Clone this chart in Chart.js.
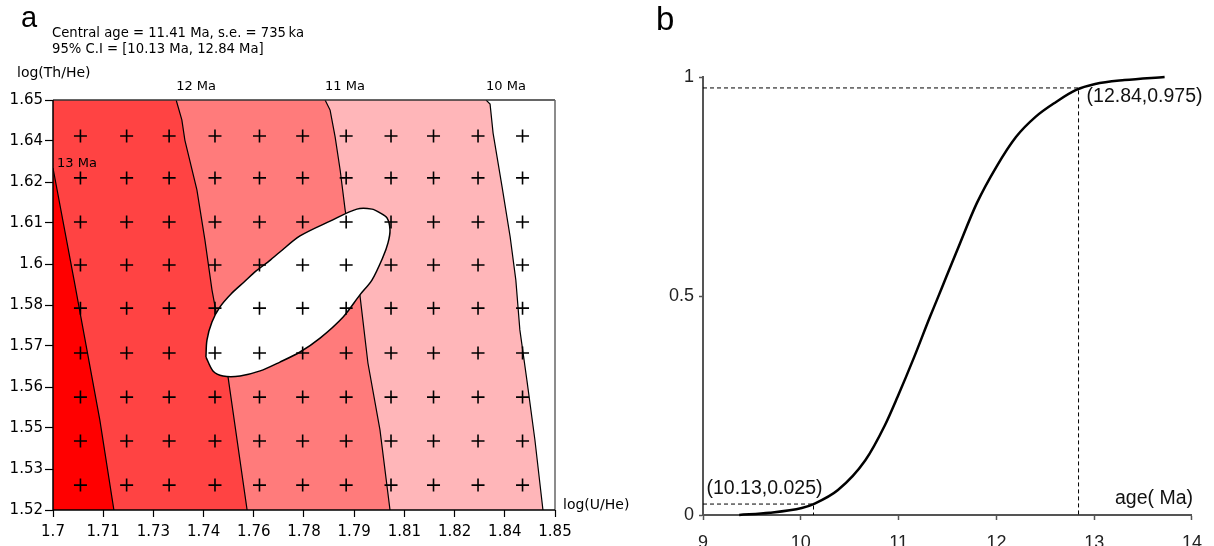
<!DOCTYPE html>
<html>

<head>
    <title>Central age and age distribution</title>
    <script src="https://cdn.jsdelivr.net/npm/chart.js"></script>
    <style>
        body {
            margin: 0;
            background: #fff;
            width: 1214px;
            height: 546px;
            overflow: hidden;
            position: relative;
        }

        canvas {
            position: absolute;
            top: 0;
        }

        #ageMap {
            left: 0;
        }

        #ageCdf {
            left: 640px;
        }

        .txt {
            position: absolute;
            white-space: nowrap;
            line-height: 1;
            color: #000;
        }

        .dv {
            font-family: "DejaVu Sans", sans-serif;
        }

        .ls {
            font-family: "Liberation Sans", Arial, sans-serif;
        }
    </style>
</head>

<body>
    <canvas id="ageMap" width="640" height="546"></canvas>
    <canvas id="ageCdf" width="574" height="546"></canvas>

    <div class="txt ls" style="left:21px; top:3px; font-size:29px;">a</div>
    <div class="txt dv" style="left:52px; top:26px; font-size:13.2px;">Central age = 11.41 Ma, s.e. = 735&#8201;ka</div>
    <div class="txt dv" style="left:52px; top:42px; font-size:13.2px;">95% C.I = [10.13 Ma, 12.84 Ma]</div>
    <div class="txt dv" style="left:17px; top:65px; font-size:14px;">log(Th/He)</div>
    <div class="txt dv" style="left:563px; top:497px; font-size:14px;">log(U/He)</div>
    <div class="txt ls" style="left:656px; top:2px; font-size:33px;">b</div>

    <script>
        // ---- panel a : isochrons in log(U/He) / log(Th/He) space ----
        const uTickLabels = ['1.7', '1.71', '1.73', '1.74', '1.76', '1.78', '1.79', '1.81', '1.82', '1.84', '1.85'];
        const thTickLabels = ['1.52', '1.53', '1.55', '1.56', '1.57', '1.58', '1.6', '1.61', '1.62', '1.64', '1.65'];

        const contourNames = ['13 Ma', '12 Ma', '11 Ma', '10 Ma'];
        const contour13 = [[1.7000, 1.6284], [1.7063, 1.5929], [1.7140, 1.5485], [1.7182, 1.5200]];
        const contour12 = [[1.7368, 1.6500], [1.7385, 1.6437], [1.7394, 1.6373], [1.7430, 1.6215], [1.7454, 1.6056],
            [1.7475, 1.5898], [1.7499, 1.5761], [1.7523, 1.5622], [1.7580, 1.5200]];
        const contour11 = [[1.7813, 1.6500], [1.7828, 1.6468], [1.7843, 1.6383], [1.7858, 1.6278], [1.7873, 1.6151],
            [1.7893, 1.6024], [1.7917, 1.5882], [1.7941, 1.5666], [1.7977, 1.5454], [1.8007, 1.5200]];
        const contour10 = [[1.8294, 1.6500], [1.8306, 1.6487], [1.8315, 1.6395], [1.8342, 1.6224], [1.8366, 1.6066],
            [1.8383, 1.5929], [1.8395, 1.5771], [1.8416, 1.5612], [1.8440, 1.5422], [1.8464, 1.5200]];

        // 95% confidence ellipse outline
        const ellipse95 = [[1.7457, 1.5685], [1.7460, 1.5739], [1.7475, 1.5796], [1.7499, 1.5844], [1.7532, 1.5885],
            [1.7571, 1.5923], [1.7607, 1.5958], [1.7642, 1.5986], [1.7678, 1.6018], [1.7738, 1.6069], [1.7828, 1.6116],
            [1.7908, 1.6154], [1.7953, 1.6154], [1.7977, 1.6142], [1.7998, 1.6126], [1.8007, 1.6088], [1.8001, 1.6047],
            [1.7986, 1.6002], [1.7953, 1.5929], [1.7917, 1.5882], [1.7867, 1.5812], [1.7798, 1.5745], [1.7738, 1.5701],
            [1.7678, 1.5669], [1.7619, 1.5641], [1.7559, 1.5625], [1.7508, 1.5625], [1.7478, 1.5641], [1.7457, 1.5685]];

        // grain positions (grid of crosses)
        const grainU = [1.7082, 1.7220, 1.7347, 1.7484, 1.7617, 1.7746, 1.7876, 1.8010, 1.8137, 1.8270, 1.8403];
        const grainTh = [1.6386, 1.6253, 1.6113, 1.5977, 1.5840, 1.5698, 1.5558, 1.5419, 1.5279];

        // ---- panel b : cumulative age distribution ----
        const ageTicks = [9, 10, 11, 12, 13, 14];
        const probTicks = [0, 0.5, 1];
        const cdfAge = [9.37, 9.68, 10.01, 10.13, 10.38, 10.66, 10.86, 10.99, 11.16, 11.32, 11.39, 11.49, 11.60,
            11.80, 12.00, 12.20, 12.40, 12.61, 12.81, 13.01, 13.31, 13.72];
        const cdfProb = [0, 0.005, 0.016, 0.025, 0.057, 0.125, 0.205, 0.270, 0.361, 0.452, 0.490, 0.545, 0.605,
            0.712, 0.795, 0.863, 0.909, 0.943, 0.970, 0.984, 0.993, 1.0];
        const ciLow = [10.13, 0.025];
        const ciHigh = [12.84, 0.975];

        const U_MIN = 1.7, U_MAX = 1.85, TH_MIN = 1.52, TH_MAX = 1.65;
        const bandColors = ['#ff0000', '#ff4343', '#ff7b7b', '#ffb6b9'];

        Chart.defaults.font.family = '"DejaVu Sans", sans-serif';

        function toPoints(pairs) {
            return pairs.map(p => ({ x: p[0], y: p[1] }));
        }

        const contours = [contour13, contour12, contour11, contour10];

        // filled band left of each isochron, oldest on top
        const bandSets = contours.map((c, i) => ({
            data: [{ x: U_MIN, y: c[0][1] }, ...toPoints(c), { x: U_MIN, y: TH_MIN }],
            showLine: true,
            fill: 'shape',
            backgroundColor: bandColors[i],
            borderColor: 'rgba(0,0,0,0)',
            borderWidth: 0,
            pointRadius: 0,
            tension: 0,
            order: 10 + i
        }));

        const lineSets = contours.map(c => ({
            data: toPoints(c),
            showLine: true,
            fill: false,
            borderColor: '#000',
            borderWidth: 1.2,
            pointRadius: 0,
            tension: 0,
            order: 5
        }));

        const grains = [];
        grainTh.forEach(th => grainU.forEach(u => grains.push({ x: u, y: th })));

        const mapDecor = {
            id: 'mapDecor',
            afterDatasetsDraw(chart) {
                const { ctx, chartArea: a, scales: { x, y } } = chart;
                ctx.save();
                ctx.lineWidth = 1.5;
                ctx.strokeStyle = '#333';
                ctx.beginPath();
                ctx.moveTo(a.left, a.top);
                ctx.lineTo(a.right, a.top);
                ctx.stroke();
                ctx.strokeStyle = '#666';
                ctx.beginPath();
                ctx.moveTo(a.right, a.top);
                ctx.lineTo(a.right, a.bottom);
                ctx.stroke();
                ctx.strokeStyle = '#000';
                ctx.beginPath();
                ctx.moveTo(a.left, a.top);
                ctx.lineTo(a.left, a.bottom);
                ctx.lineTo(a.right, a.bottom);
                ctx.stroke();

                ctx.font = '13px "DejaVu Sans"';
                ctx.fillStyle = '#000';
                ctx.textBaseline = 'alphabetic';
                ctx.textAlign = 'left';
                contours.forEach((c, i) => {
                    const px = x.getPixelForValue(c[0][0]);
                    const py = y.getPixelForValue(c[0][1]);
                    if (py <= a.top + 1) {
                        ctx.fillText(contourNames[i], px, a.top - 10);
                    } else {
                        ctx.fillText(contourNames[i], px + 4, py - 1);
                    }
                });
                ctx.restore();
            }
        };

        new Chart(document.getElementById('ageMap'), {
            type: 'scatter',
            data: {
                datasets: [
                    ...bandSets,
                    ...lineSets,
                    {
                        data: toPoints(ellipse95),
                        showLine: true,
                        fill: 'shape',
                        backgroundColor: '#fff',
                        borderColor: '#000',
                        borderWidth: 1.5,
                        pointRadius: 0,
                        tension: 0.3,
                        order: 3
                    },
                    {
                        data: grains,
                        showLine: false,
                        pointStyle: 'cross',
                        pointRadius: 6.5,
                        borderWidth: 1.6,
                        borderColor: '#000',
                        order: 1
                    }
                ]
            },
            options: {
                responsive: false,
                animation: false,
                events: [],
                layout: { padding: { top: 100, right: 85, left: 0, bottom: 0 } },
                plugins: { legend: { display: false }, tooltip: { enabled: false } },
                scales: {
                    x: {
                        type: 'linear',
                        min: U_MIN,
                        max: U_MAX,
                        afterBuildTicks: s => {
                            s.ticks = uTickLabels.map((_, i) => ({ value: U_MIN + i * (U_MAX - U_MIN) / (uTickLabels.length - 1) }));
                        },
                        afterFit: s => { s.height = 36; },
                        ticks: {
                            callback: (v, i) => uTickLabels[i],
                            autoSkip: false,
                            maxRotation: 0,
                            padding: 6,
                            color: '#000',
                            font: { family: '"DejaVu Sans"', size: 15 }
                        },
                        grid: { drawOnChartArea: false, tickLength: 7, tickColor: '#000', tickWidth: 1.2 },
                        border: { display: false }
                    },
                    y: {
                        type: 'linear',
                        min: TH_MIN,
                        max: TH_MAX,
                        afterBuildTicks: s => {
                            s.ticks = thTickLabels.map((_, i) => ({ value: TH_MIN + i * (TH_MAX - TH_MIN) / (thTickLabels.length - 1) }));
                        },
                        afterFit: s => { s.width = 53; },
                        ticks: {
                            callback: (v, i) => thTickLabels[i],
                            autoSkip: false,
                            padding: 2,
                            color: '#000',
                            font: { family: '"DejaVu Sans"', size: 15 }
                        },
                        grid: { drawOnChartArea: false, tickLength: 8, tickColor: '#000', tickWidth: 1.2 },
                        border: { display: false }
                    }
                }
            },
            plugins: [mapDecor]
        });

        // ---- panel b chart ----
        const cdfNotes = {
            id: 'cdfNotes',
            afterDatasetsDraw(chart) {
                const { ctx, chartArea: a, scales: { x, y } } = chart;
                ctx.save();
                ctx.font = '19.5px "Liberation Sans"';
                ctx.fillStyle = '#111';
                ctx.textBaseline = 'alphabetic';
                const lx = x.getPixelForValue(ciLow[0]);
                const ly = y.getPixelForValue(ciLow[1]);
                ctx.textAlign = 'right';
                ctx.fillText('(' + ciLow[0].toFixed(2) + ',' + ciLow[1].toFixed(3) + ')', lx + 9, ly - 10);
                const hx = x.getPixelForValue(ciHigh[0]);
                const hy = y.getPixelForValue(ciHigh[1]);
                ctx.textAlign = 'left';
                ctx.fillText('(' + ciHigh[0].toFixed(2) + ',' + ciHigh[1].toFixed(3) + ')', hx + 8, hy + 14);
                ctx.textAlign = 'right';
                ctx.fillText('age( Ma)', a.right + 1, a.bottom - 11);
                ctx.restore();
            }
        };

        new Chart(document.getElementById('ageCdf'), {
            type: 'scatter',
            data: {
                datasets: [
                    {
                        data: cdfAge.map((a, i) => ({ x: a, y: cdfProb[i] })),
                        showLine: true,
                        borderColor: '#000',
                        borderWidth: 2.5,
                        pointRadius: 0,
                        cubicInterpolationMode: 'monotone',
                        clip: 6,
                        order: 1
                    },
                    {
                        data: [{ x: ageTicks[0], y: ciHigh[1] }, { x: ciHigh[0], y: ciHigh[1] }, { x: ciHigh[0], y: 0 }],
                        showLine: true,
                        borderColor: '#000',
                        borderWidth: 1,
                        borderDash: [4, 3],
                        pointRadius: 0,
                        order: 2
                    },
                    {
                        data: [{ x: ageTicks[0], y: ciLow[1] }, { x: ciLow[0], y: ciLow[1] }, { x: ciLow[0], y: 0 }],
                        showLine: true,
                        borderColor: '#000',
                        borderWidth: 1,
                        borderDash: [4, 3],
                        pointRadius: 0,
                        order: 2
                    }
                ]
            },
            options: {
                responsive: false,
                animation: false,
                events: [],
                layout: { padding: { top: 77, right: 16, left: 0, bottom: 0 } },
                plugins: { legend: { display: false }, tooltip: { enabled: false } },
                scales: {
                    x: {
                        type: 'linear',
                        min: ageTicks[0],
                        max: ageTicks[ageTicks.length - 1],
                        afterBuildTicks: s => { s.ticks = ageTicks.map(v => ({ value: v })); },
                        afterFit: s => { s.height = 31; },
                        ticks: {
                            autoSkip: false,
                            maxRotation: 0,
                            padding: 12,
                            color: '#222',
                            font: { family: '"Liberation Sans"', size: 18 }
                        },
                        grid: { drawOnChartArea: false, tickLength: 5, tickColor: '#555', tickWidth: 1.5 },
                        border: { color: '#555', width: 2 }
                    },
                    y: {
                        type: 'linear',
                        min: probTicks[0],
                        max: probTicks[probTicks.length - 1],
                        afterBuildTicks: s => { s.ticks = probTicks.map(v => ({ value: v })); },
                        afterFit: s => { s.width = 63; },
                        ticks: {
                            callback: v => String(v),
                            padding: 5,
                            color: '#222',
                            font: { family: '"Liberation Sans"', size: 18 }
                        },
                        grid: { drawOnChartArea: false, tickLength: 4, tickColor: '#555', tickWidth: 1.5 },
                        border: { color: '#555', width: 2 }
                    }
                }
            },
            plugins: [cdfNotes]
        });
    </script>
</body>

</html>
